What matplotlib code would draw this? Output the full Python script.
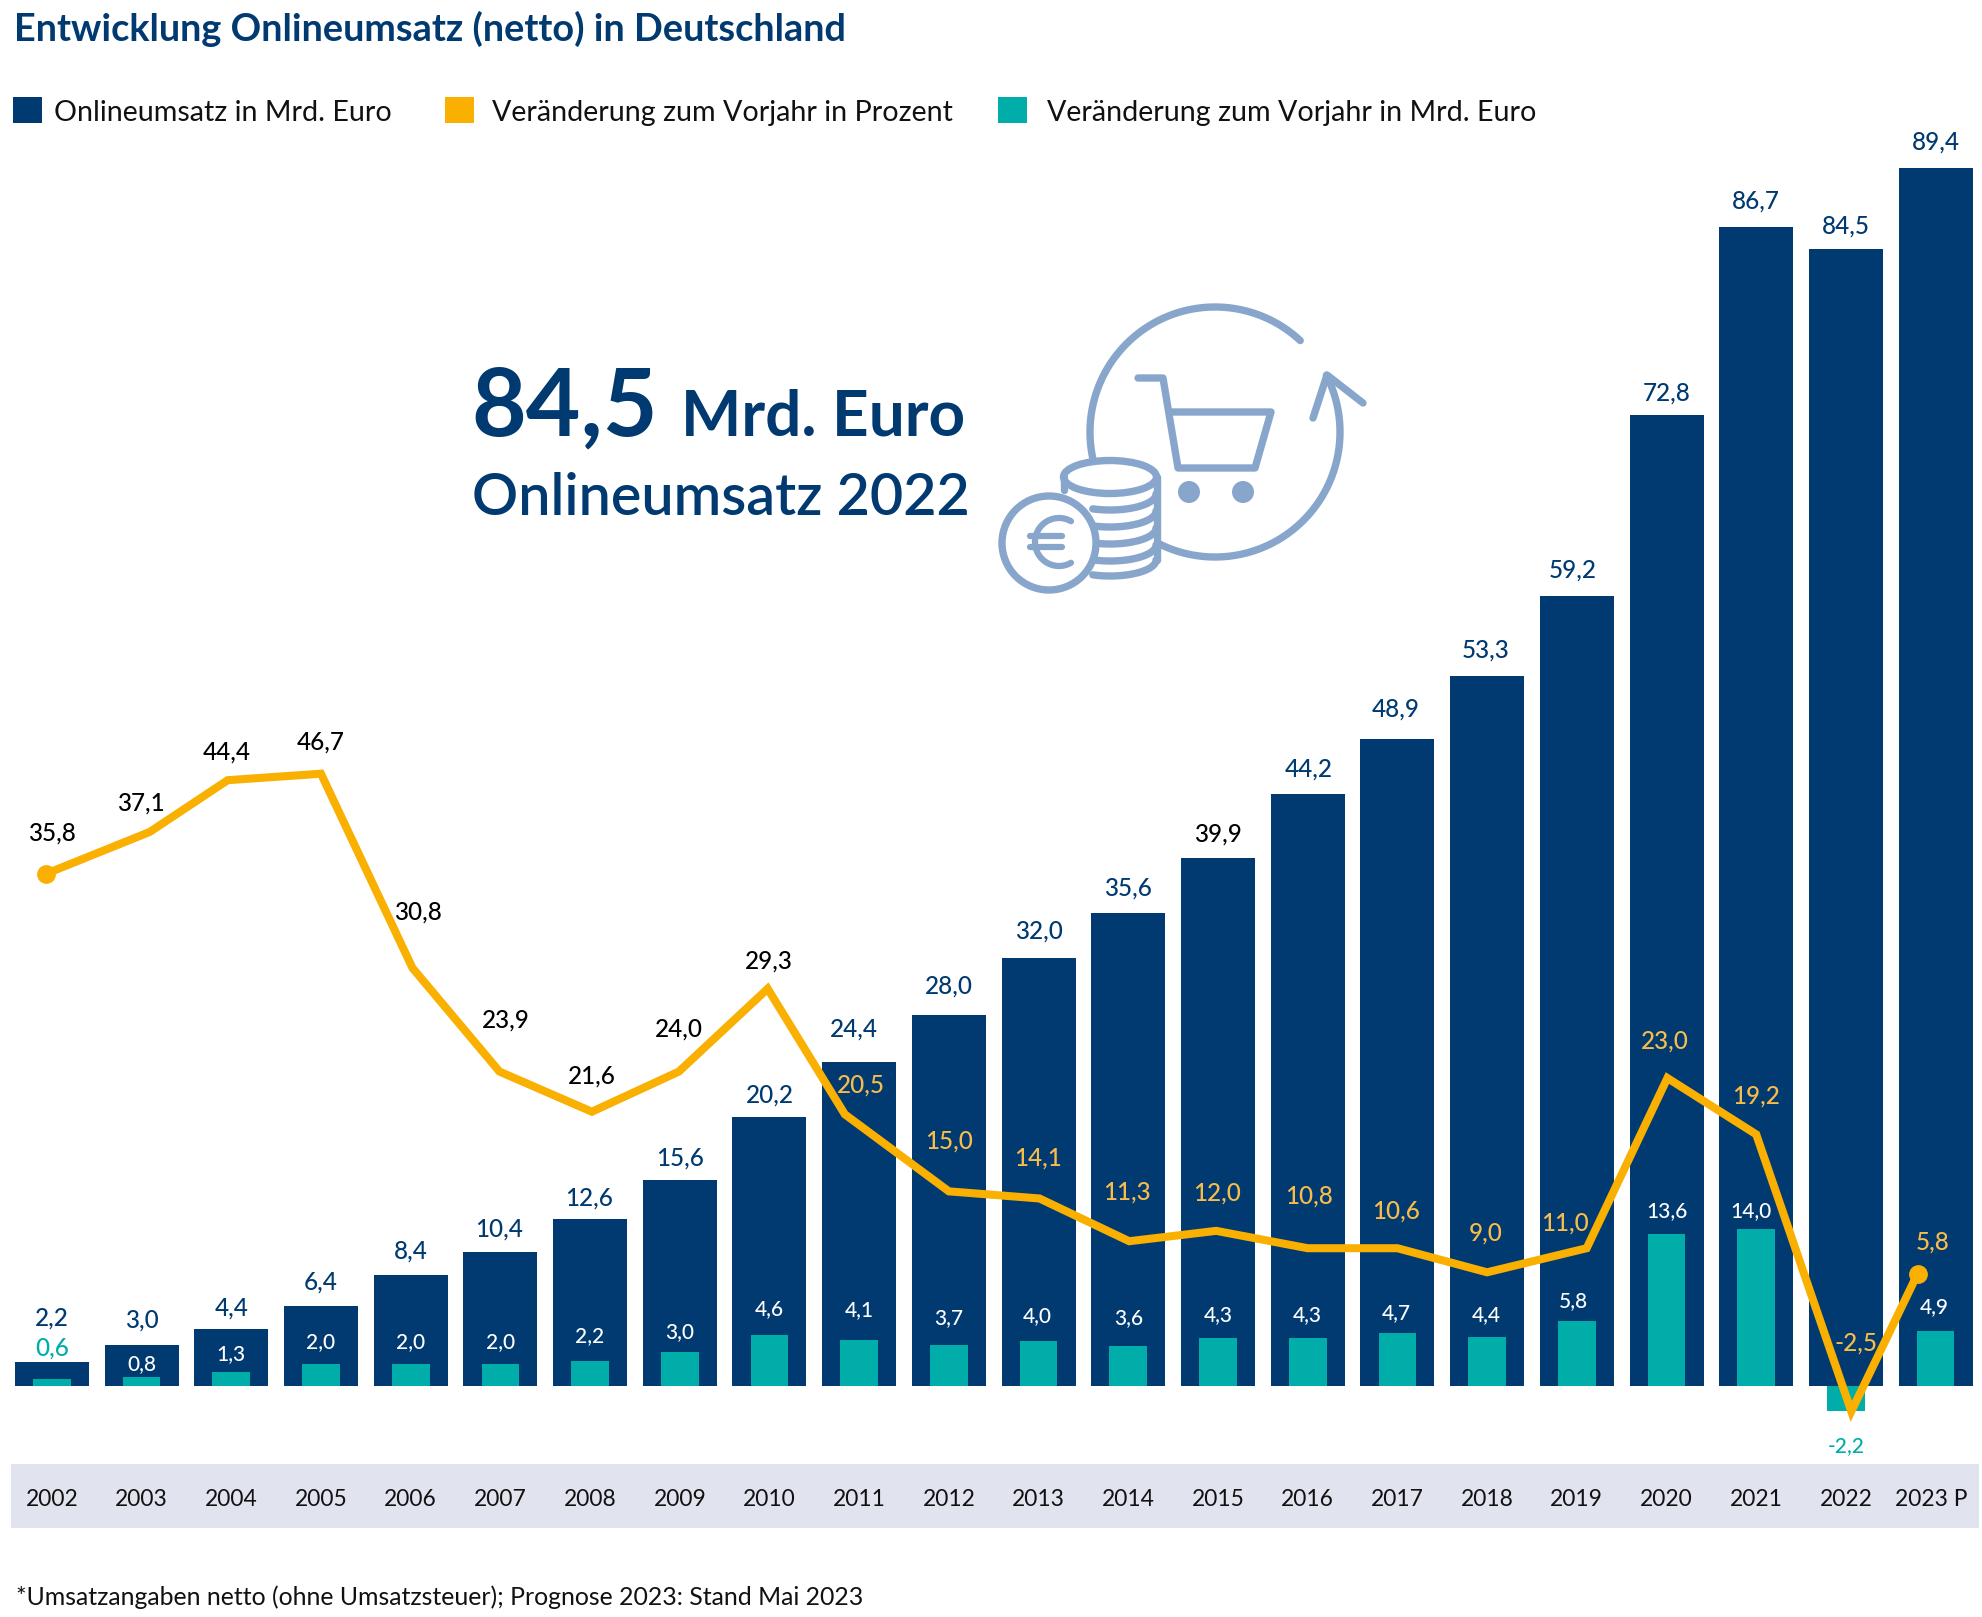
"""Entwicklung Onlineumsatz (netto) in Deutschland"""

import numpy as np
import matplotlib
matplotlib.use("Agg")
import matplotlib.pyplot as plt
from matplotlib.patches import Circle, Ellipse, Rectangle
from matplotlib.transforms import blended_transform_factory

plt.rcParams["font.family"] = ["Lato", "DejaVu Sans"]

# Daten
jahre = np.arange(2002, 2024)
jahr_labels = [str(j) for j in range(2002, 2023)] + ["2023 P"]

umsatz = [2.2, 3.0, 4.4, 6.4, 8.4, 10.4, 12.6, 15.6, 20.2, 24.4, 28.0,
          32.0, 35.6, 39.9, 44.2, 48.9, 53.3, 59.2, 72.8, 86.7, 84.5, 89.4]
# Balkenhoehen (nicht ganz massstabsgetreu zur Beschriftung)
umsatz_balken = [1.8, 3.05, 4.25, 6.0, 8.3, 10.0, 12.45, 15.4, 20.1, 24.15, 27.7,
                 31.9, 35.3, 39.4, 44.15, 48.3, 53.0, 58.9, 72.45, 86.5, 84.8, 90.85]

diff_mrd = [0.6, 0.8, 1.3, 2.0, 2.0, 2.0, 2.2, 3.0, 4.6, 4.1, 3.7,
            4.0, 3.6, 4.3, 4.3, 4.7, 4.4, 5.8, 13.6, 14.0, -2.2, 4.9]

diff_proz = [35.8, 37.1, 44.4, 46.7, 30.8, 23.9, 21.6, 24.0, 29.3, 20.5, 15.0,
             14.1, 11.3, 12.0, 10.8, 10.6, 9.0, 11.0, 23.0, 19.2, -2.5, 5.8]
# Verlauf der Linie
linie_jahr = [2001.93, 2003.09, 2003.96, 2005.0, 2006.02, 2006.99, 2008.02, 2008.99,
              2009.98, 2010.84, 2012.0, 2013.01, 2014.01, 2014.98, 2016.0, 2017.0,
              2018.0, 2019.11, 2020.01, 2021.0, 2022.06, 2022.8]
linie_wert = [38.96, 42.2, 46.2, 46.7, 31.7, 23.7, 20.6, 23.7, 30.1, 20.4, 14.45,
              13.9, 10.6, 11.4, 10.06, 10.06, 8.2, 10.06, 23.2, 18.85, -2.54, 8.1]

# Label-Abstaende (Einheit: Bildpunkte der Vorlage / S)
umsatz_dy = [35, 20, 17, 19, 19, 18, 17, 17, 17, 26, 23, 22, 20, 19, 20, 23, 20, 21, 17, 20, 18, 21]
umsatz_dx = [0, 0, 0, 0, 0, -1, -1, 0, 0, -4, 0, 0, 0, 0, 1, -1, -1, -3, 0, 0, 0, 0]
diff_dy = [25, 10, 14, 17, 17, 17, 20, 16, 20, 24, 21, 20, 22, 18, 18, 16, 17, 16, 18, 14, -28, 19]
diff_dx = [0, 0, 0, 0, 0, 0, 0, 0, 0, 0, 0, -1, 0, 0, 0, -1, -1, -3, 0, -4, 0, -1]
proz_dy = [32, 23, 22, 25, 44, 41, 28, 34, 22, 23, 40, 32, 39, 30, 41, 29, 31, 20, 29, 30, 54, 25]
proz_dx = [5, -7, -1, 0, 4, 5, 0, 0, 1, 13, 0, -1, -2, 1, 1, -1, -1, -17, -2, 0, 4, 12]

NAVY = "#003A70"
GOLD = "#F9B000"
GOLD_TEXT = "#F8BC4A"
TEAL = "#00ADA8"
ICON = "#88A6CC"
BAND = "#E1E4EF"

S = 1983 / 1568
W, H = 1983, 1617
X0 = 41 * S          # Mitte 2002
DX = 70.93 * S       # Abstand der Jahre
Y0 = 1096 * S        # Nulllinie
PX_UMSATZ = 10.6 * S
PX_DIFF = 11.2
PX_LINIE = 10.24 * S
Y0_LINIE = 1090 * S

fig = plt.figure(figsize=(W / 100, H / 100), dpi=100, facecolor="white")


def make_axes(y0, px_per_unit, zorder):
    a = fig.add_axes([0, 0, 1, 1], zorder=zorder)
    a.set_xlim(2002 - X0 / DX, 2002 + (W - X0) / DX)
    a.set_ylim((y0 - H) / px_per_unit, y0 / px_per_unit)
    a.axis("off")
    a.patch.set_alpha(0)
    return a


deko = fig.add_axes([0, 0, 1, 1], zorder=0)
deko.set_xlim(0, W)
deko.set_ylim(H, 0)
deko.axis("off")

ax = make_axes(Y0, PX_UMSATZ, 1)
ax_diff = make_axes(Y0, PX_DIFF, 2)
ax_linie = make_axes(Y0_LINIE, PX_LINIE, 3)

ax.bar(jahre, umsatz_balken, width=0.825, color=NAVY)
ax_diff.bar(jahre, diff_mrd, width=0.42, color=TEAL)

ax_linie.plot(linie_jahr, linie_wert, color=GOLD, lw=5.8,
              solid_joinstyle="miter", solid_capstyle="round")
ax_linie.plot([linie_jahr[0], linie_jahr[-1]], [linie_wert[0], linie_wert[-1]],
              ls="none", marker="o", ms=12.5, color=GOLD)


def fmt(v):
    return f"{v:.1f}".replace(".", ",")


def wert_label(a, x, y, v, dx, dy, color, size=17.5):
    a.annotate(fmt(v), (x, y), xytext=(dx * S, dy * S), textcoords="offset pixels",
               ha="center", va="center", fontsize=size, fontweight="medium", color=color, zorder=5)


# Beschriftungen
for i, j in enumerate(jahre):
    wert_label(ax, j, umsatz_balken[i], umsatz[i], umsatz_dx[i], umsatz_dy[i],
               "black" if j == 2015 else NAVY)
    # die weissen Werte in den Balken sind etwas kleiner
    wert_label(ax_diff, j, diff_mrd[i], diff_mrd[i], diff_dx[i], diff_dy[i],
               TEAL if j in (2002, 2022) else "white", size=17.5 if j == 2002 else 15)
    wert_label(ax_linie, linie_jahr[i], linie_wert[i], diff_proz[i], proz_dx[i], proz_dy[i],
               "black" if j <= 2010 else GOLD_TEXT)

# Jahresband
deko.add_patch(Rectangle((9 * S, 1158 * S), 1556 * S, 50 * S, color=BAND, lw=0))
trans = blended_transform_factory(ax.transData, deko.transData)
for j, lab in zip(jahre, jahr_labels):
    deko.text(j - (0.05 if j == 2023 else 0), 1185.5 * S, lab, transform=trans,
              ha="center", va="center", fontsize=16.4, color="#111111")

# Titel, Legende, Fussnote
deko.text(11 * S, 23 * S, "Entwicklung Onlineumsatz (netto) in Deutschland",
          fontsize=27.3, fontweight="bold", color=NAVY, ha="left", va="center")
for x_box, x_txt, col, txt in [
    (10, 43, NAVY, "Onlineumsatz in Mrd. Euro"),
    (352, 389, GOLD, "Veränderung zum Vorjahr in Prozent"),
    (789, 828, TEAL, "Veränderung zum Vorjahr in Mrd. Euro"),
]:
    deko.add_patch(Rectangle((x_box * S, 77 * S), 23 * S, 20 * S, color=col, lw=0))
    deko.text(x_txt * S, 89.5 * S, txt, fontsize=20.6, color="#111111", ha="left", va="center")
deko.text(13 * S, 1263 * S, "*Umsatzangaben netto (ohne Umsatzsteuer); Prognose 2023: Stand Mai 2023",
          fontsize=17.9, color="#111111", ha="left", va="center")

# Kennzahl
deko.text(373 * S, 344 * S, "84,5", fontsize=68, fontweight="bold", color=NAVY,
          ha="left", va="baseline")
deko.text(763 * S, 344 * S, "Mrd. Euro", fontsize=46, fontweight="bold", color=NAVY,
          ha="right", va="baseline")
deko.text(373 * S, 394 * S, "Onlineumsatz 2022", fontsize=41.3, fontweight="semibold", color=NAVY,
          ha="left", va="center")


# Icon: Einkaufswagen mit Muenzen
def stroke(xs, ys, lw=5.3):
    deko.plot(xs, ys, color=ICON, lw=lw, solid_capstyle="round", solid_joinstyle="round", zorder=3)


def bogen(cx, cy, rx, ry, a_von, a_bis, lw=5.3):
    t = np.radians(np.linspace(a_von, a_bis, 120))
    stroke(cx + rx * np.cos(t), cy - ry * np.sin(t), lw)


bogen(1215, 432, 125, 125, 47, 192)
bogen(1215, 432, 125, 125, 243, 387)
stroke([1313, 1327, 1363], [418, 375, 403])
stroke([1138, 1163, 1178, 1255, 1271, 1170], [378, 378, 468, 468, 412, 412])
for x_rad in (1189, 1243):
    deko.add_patch(Circle((x_rad, 492), 11, color=ICON, lw=0, zorder=3))

deko.add_patch(Ellipse((1110, 477), 93, 33, fc="white", ec=ICON, lw=5.3, zorder=3))
stroke([1064, 1064], [477, 490])
stroke([1157, 1157], [477, 560])
for unten in (510, 527, 544, 561, 576):
    bogen(1110, unten - 16, 46, 16, 0, -112)
deko.add_patch(Circle((1049, 543), 47, fc="white", ec=ICON, lw=5.3, zorder=4))
t_e = np.radians(np.linspace(60, 300, 60))
deko.plot(1059 + 24 * np.cos(t_e), 542 - 24 * np.sin(t_e), color=ICON, lw=4.5,
          solid_capstyle="round", zorder=5)
for y_e in (536, 547):
    deko.plot([1030, 1062], [y_e, y_e], color=ICON, lw=4.5, solid_capstyle="round", zorder=5)

fig.savefig("out.png", dpi=100, facecolor="white")
plt.close(fig)
